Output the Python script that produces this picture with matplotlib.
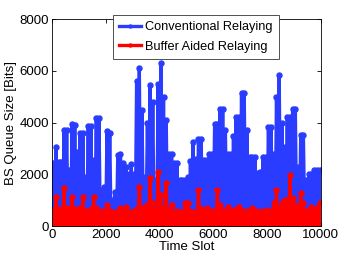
import numpy as np
import matplotlib
matplotlib.use("Agg")
import matplotlib.pyplot as plt

# peak queue size (bits) in each 100-slot bin
conventional_peaks = [
    2420, 3060, 2480, 2480, 3700, 3700, 2160, 3940, 3900, 2870,
    3580, 3580, 1900, 3860, 3860, 2550, 4160, 4160, 1400, 1500,
    3680, 3600, 1000, 1300, 2740, 2800, 2420, 2300, 2000, 2400,
    2000, 5600, 6100, 4500, 1900, 4000, 5440, 4800, 1780, 5500,
    6300, 5000, 4100, 2800, 2800, 2420, 2420, 1780, 1780, 1780,
    1900, 2500, 3250, 2600, 3380, 3380, 2540, 2540, 2800, 2800,
    3960, 3960, 4540, 4540, 3700, 2800, 2800, 3500, 4220, 4220,
    5150, 5150, 3700, 2670, 2670, 2670, 2070, 2100, 2670, 2670,
    3830, 3830, 2800, 5000, 5830, 4000, 3060, 4220, 4220, 4540,
    4540, 2290, 3510, 3510, 1780, 2030, 2030, 2160, 2160, 2160,
]
buffer_peaks = [
    600, 1130, 650, 500, 1460, 700, 600, 1130, 650, 550,
    700, 1130, 600, 500, 650, 1130, 700, 550, 600, 500,
    810, 600, 550, 500, 600, 680, 500, 740, 550, 500,
    600, 650, 1520, 700, 600, 800, 1840, 900, 600, 2100,
    1200, 700, 1650, 600, 810, 550, 600, 500, 550, 880,
    880, 600, 550, 500, 1390, 650, 550, 680, 500, 600,
    550, 1390, 800, 600, 550, 740, 600, 550, 650, 740,
    600, 550, 600, 500, 680, 600, 550, 600, 500, 620,
    550, 600, 880, 1390, 700, 900, 1000, 1000, 1970, 1100,
    810, 700, 1290, 900, 600, 550, 740, 600, 680, 880,
]
# the queues drain back to (almost) empty between peaks
conventional_trough = 0
buffer_trough = 0
bin_width = 100

xticks = [0, 2000, 4000, 6000, 8000, 10000]
yticks = [0, 2000, 4000, 6000, 8000]


def zigzag(peaks, trough):
    n = len(peaks)
    x = np.empty(2 * n + 1)
    y = np.empty(2 * n + 1)
    x[0::2] = np.arange(n + 1) * bin_width
    y[0::2] = trough
    x[1::2] = np.arange(n) * bin_width + bin_width / 2
    y[1::2] = peaks
    return x, y


plt.rcParams['font.family'] = ['Liberation Sans', 'DejaVu Sans']
plt.rcParams['font.size'] = 9.5

fig = plt.figure(figsize=(3.53, 2.56), dpi=100)
ax = fig.add_axes([0.147, 0.117, 0.762, 0.808])

xb, yb = zigzag(conventional_peaks, conventional_trough)
xr, yr = zigzag(buffer_peaks, buffer_trough)
ax.plot(xb, yb, '-o', color='#2a3cff', lw=2.4, ms=3.6, label='Conventional Relaying')
ax.plot(xr, yr, '-o', color='#ff0000', lw=2.4, ms=3.6, label='Buffer Aided Relaying')

ax.set_xlim(0, 10000)
ax.set_ylim(0, 8000)
ax.set_xticks(xticks)
ax.set_yticks(yticks)
ax.tick_params(direction='in', top=True, right=True, length=3, width=0.6, pad=2)
for s in ax.spines.values():
    s.set_linewidth(0.6)
ax.set_xlabel('Time Slot', labelpad=0)
ax.set_ylabel('BS Queue Size [Bits]', labelpad=2)

leg = ax.legend(loc='upper left', bbox_to_anchor=(0.32, 0.942),
                bbox_transform=fig.transFigure, fancybox=False,
                edgecolor='#333333', framealpha=1, handlelength=1.7,
                handletextpad=0.3, borderpad=0.5, labelspacing=0.6,
                borderaxespad=0, markerscale=0.6, fontsize=9.2)
leg.get_frame().set_linewidth(0.6)

fig.savefig('out.png', dpi=100)
